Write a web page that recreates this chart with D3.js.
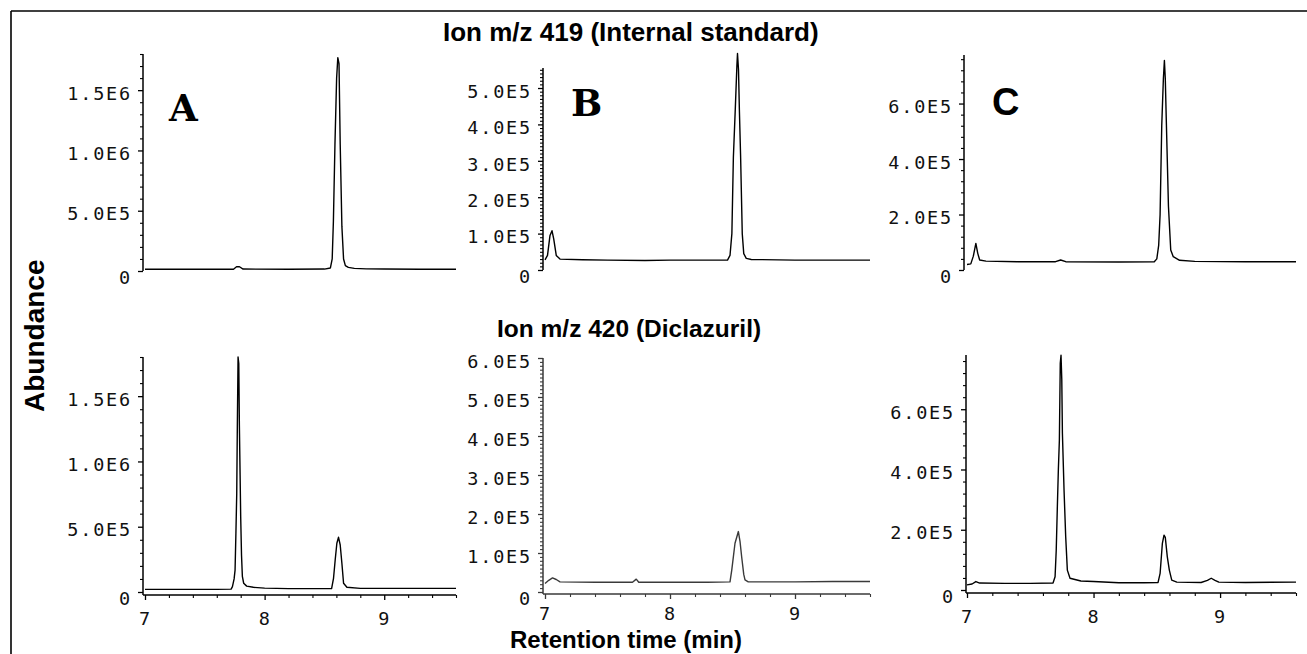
<!DOCTYPE html>
<html><head><meta charset="utf-8">
<script src="https://cdn.jsdelivr.net/npm/d3@7"></script>
<style>
html,body{margin:0;padding:0;background:#fff;}
svg{display:block;background:#fff;}
</style></head><body>
<svg id="chart" width="1307" height="654"></svg>
<script>
// ---------- data (retention time in min, abundance) ----------
const timeTicks = ["7", "8", "9"];
const ion419Title = "Ion m/z 419 (Internal standard)";
const ion420Title = "Ion m/z 420 (Diclazuril)";
const sampleLetters = ["A", "B", "C"];

const traceA419 = [[7.0,1.5e4],[7.3,1.4e4],[7.6,1.5e4],[7.74,1.5e4],[7.765,3.5e4],[7.79,3.5e4],[7.82,1.6e4],[8.2,1.5e4],[8.5,1.6e4],[8.55,2.5e4],[8.565,1.0e5],[8.575,4.1e5],[8.588,1.05e6],[8.602,1.6e6],[8.612,1.77e6],[8.622,1.72e6],[8.632,1.05e6],[8.646,3.7e5],[8.66,1.0e5],[8.675,4.5e4],[8.7,3.0e4],[8.75,2.2e4],[8.85,1.8e4],[9.0,1.6e4],[9.3,1.5e4],[9.6,1.5e4]];
const traceB419 = [[7.0,2.8e4],[7.02,4.0e4],[7.04,9.5e4],[7.056,1.08e5],[7.07,8.5e4],[7.09,4.0e4],[7.12,3.0e4],[7.3,2.8e4],[7.5,2.7e4],[7.8,2.6e4],[8.0,2.7e4],[8.3,2.7e4],[8.46,2.7e4],[8.48,4.0e4],[8.495,1.0e5],[8.507,3.1e5],[8.522,4.4e5],[8.535,5.6e5],[8.54,5.95e5],[8.548,5.5e5],[8.555,4.4e5],[8.565,3.1e5],[8.578,1.0e5],[8.59,4.5e4],[8.61,3.2e4],[8.65,2.9e4],[9.0,2.7e4],[9.3,2.7e4],[9.6,2.7e4]];
const traceC419 = [[7.0,2.0e4],[7.03,2.2e4],[7.05,5.0e4],[7.07,9.6e4],[7.085,6.0e4],[7.1,3.6e4],[7.15,3.2e4],[7.4,3.0e4],[7.7,3.0e4],[7.74,3.6e4],[7.78,3.0e4],[8.2,2.9e4],[8.48,3.0e4],[8.5,4.0e4],[8.515,9.0e4],[8.526,2.0e5],[8.539,5.2e5],[8.552,6.9e5],[8.56,7.55e5],[8.567,6.9e5],[8.575,5.4e5],[8.592,2.3e5],[8.61,7.2e4],[8.63,4.8e4],[8.68,3.5e4],[8.8,3.1e4],[9.2,3.0e4],[9.6,3.0e4]];
const traceA420 = [[7.0,2.0e4],[7.3,2.0e4],[7.6,2.0e4],[7.72,2.2e4],[7.731,4.1e4],[7.745,1.0e5],[7.753,1.68e5],[7.76,4.5e5],[7.767,7.56e5],[7.772,1.28e6],[7.778,1.8e6],[7.784,1.75e6],[7.789,1.28e6],[7.795,9.0e5],[7.8,5.77e5],[7.807,2.8e5],[7.814,1.2e5],[7.825,6.7e4],[7.85,4.5e4],[7.906,3.6e4],[8.0,3.0e4],[8.2,2.6e4],[8.4,2.6e4],[8.56,2.6e4],[8.576,1.05e5],[8.59,2.45e5],[8.604,3.73e5],[8.618,4.19e5],[8.632,3.6e5],[8.646,2.2e5],[8.66,6.7e4],[8.688,3.6e4],[8.8,2.8e4],[9.0,2.8e4],[9.3,2.8e4],[9.6,2.8e4]];
const traceB420 = [[7.0,2.2e4],[7.03,3.0e4],[7.06,3.6e4],[7.09,3.2e4],[7.12,2.6e4],[7.4,2.5e4],[7.7,2.5e4],[7.73,3.3e4],[7.75,2.5e4],[8.0,2.5e4],[8.3,2.5e4],[8.48,2.6e4],[8.494,5.6e4],[8.52,1.25e5],[8.547,1.55e5],[8.56,1.3e5],[8.573,9.1e4],[8.59,4.5e4],[8.6,3.1e4],[8.626,2.6e4],[9.0,2.6e4],[9.3,2.7e4],[9.6,2.7e4]];
const traceC420 = [[7.0,1.7e4],[7.04,2.0e4],[7.07,2.8e4],[7.1,2.3e4],[7.3,2.2e4],[7.5,2.2e4],[7.68,2.3e4],[7.696,4.4e4],[7.705,1.3e5],[7.714,2.76e5],[7.722,4.0e5],[7.73,4.97e5],[7.737,7.52e5],[7.743,7.79e5],[7.749,7.0e5],[7.754,5.2e5],[7.767,3.3e5],[7.78,1.77e5],[7.793,6.6e4],[7.814,3.9e4],[7.9,3.0e4],[8.0,2.8e4],[8.2,2.4e4],[8.4,2.4e4],[8.51,2.5e4],[8.526,5.5e4],[8.544,1.55e5],[8.557,1.82e5],[8.567,1.75e5],[8.583,1.1e5],[8.599,6.6e4],[8.618,3.3e4],[8.658,2.6e4],[8.85,2.5e4],[8.9,3.2e4],[8.93,3.9e4],[8.96,3.2e4],[8.99,2.6e4],[9.2,2.5e4],[9.6,2.6e4]];

const ticksE6 = [0, 5e5, 1e6, 1.5e6];
const labelsE6 = ["0", "5.0E5", "1.0E6", "1.5E6"];
const ticksB419 = [0, 1e5, 2e5, 3e5, 4e5, 5e5];
const labelsB419 = ["0", "1.0E5", "2.0E5", "3.0E5", "4.0E5", "5.0E5"];
const ticksB420 = [0, 1e5, 2e5, 3e5, 4e5, 5e5, 6e5];
const labelsB420 = ["0", "1.0E5", "2.0E5", "3.0E5", "4.0E5", "5.0E5", "6.0E5"];
const ticksC = [0, 2e5, 4e5, 6e5];
const labelsC = ["0", "2.0E5", "4.0E5", "6.0E5"];

// ---------- layout ----------
const panels = [
  {data: traceA419, yMax: 1.8e6,  ticks: ticksE6,  labels: labelsE6,  minor: 1e5, x0: 145, x1: 456,  ax: 143, y0: 271, y1: 54,  xAxisY: null},
  {data: traceB419, yMax: 5.55e5, ticks: ticksB419, labels: labelsB419, minor: 1e4, x0: 545, x1: 870,  ax: 543, y0: 270, y1: 68,  xAxisY: null},
  {data: traceC419, yMax: 7.75e5, ticks: ticksC,   labels: labelsC,   minor: 4e4, x0: 967, x1: 1296, ax: 964, y0: 270, y1: 55,  xAxisY: null},
  {data: traceA420, yMax: 1.8e6,  ticks: ticksE6,  labels: labelsE6,  minor: 1e5, x0: 145, x1: 456,  ax: 143, y0: 592, y1: 357, xAxisY: 595, xPad: 12},
  {data: traceB420, yMax: 6.0e5,  ticks: ticksB420, labels: labelsB420, minor: 1e4, x0: 545, x1: 870,  ax: 543, y0: 592, y1: 358, xAxisY: 594, xPad: 8, color: "#3a3a3a"},
  {data: traceC420, yMax: 7.8e5,  ticks: ticksC,   labels: labelsC,   minor: 4e4, x0: 967, x1: 1296, ax: 966, y0: 590, y1: 355, xAxisY: 593, xPad: 12}
];

const svg = d3.select("#chart");
const monoFont = "'DejaVu Sans Mono', 'Liberation Mono', monospace";
const boldFont = "'Liberation Sans', Arial, Helvetica, sans-serif";

// frame
svg.append("line").attr("x1", 11).attr("x2", 1307).attr("y1", 11).attr("y2", 11).attr("stroke", "#000").attr("stroke-width", 1.6);
svg.append("line").attr("x1", 11).attr("x2", 11).attr("y1", 11).attr("y2", 654).attr("stroke", "#000").attr("stroke-width", 1.6);

function styleTickText(sel) {
  sel.selectAll("text")
    .attr("font-family", monoFont)
    .attr("font-size", 18.5)
    .attr("letter-spacing", "1.8px")
    .attr("fill", "#111");
}

panels.forEach(p => {
  const color = p.color || "#000";
  const x = d3.scaleLinear().domain([7, 9.6]).range([p.x0, p.x1]);
  const y = d3.scaleLinear().domain([0, p.yMax]).range([p.y0, p.y1]);
  const g = svg.append("g");

  // minor y ticks
  const minorVals = d3.range(p.minor, p.yMax + 1, p.minor).filter(v => !p.ticks.some(t => Math.abs(t - v) < p.minor / 2));
  const gMinor = g.append("g").attr("transform", `translate(${p.ax},0)`)
    .call(d3.axisLeft(y).tickValues(minorVals).tickSize(3).tickSizeOuter(0).tickFormat(""));
  gMinor.select(".domain").remove();
  gMinor.selectAll("line").attr("stroke", color).attr("stroke-width", 1.1);

  // major y ticks + labels
  const gMajor = g.append("g").attr("transform", `translate(${p.ax},0)`)
    .call(d3.axisLeft(y).tickValues(p.ticks).tickSize(5).tickSizeOuter(0).tickPadding(6)
      .tickFormat((d, i) => p.labels[i]));
  gMajor.select(".domain").remove();
  gMajor.selectAll("line").attr("stroke", color).attr("stroke-width", 1.3);
  styleTickText(gMajor);
  gMajor.selectAll("text").attr("dy", d => d === 0 ? "0.65em" : "0.5em");

  // y-axis line
  g.append("line").attr("x1", p.ax).attr("x2", p.ax)
    .attr("y1", p.xAxisY != null ? p.xAxisY : y(0)).attr("y2", p.y1)
    .attr("stroke", color).attr("stroke-width", 1.5);

  // x axis (bottom row only)
  if (p.xAxisY != null) {
    const gxMinor = g.append("g").attr("transform", `translate(0,${p.xAxisY})`)
      .call(d3.axisBottom(x).tickValues(d3.range(7.2, 9.61, 0.2).filter(v => Math.abs(v - Math.round(v)) > 0.05))
        .tickSize(3).tickSizeOuter(0).tickFormat(""));
    gxMinor.select(".domain").remove();
    gxMinor.selectAll("line").attr("stroke", color).attr("stroke-width", 1.1);
    const gx = g.append("g").attr("transform", `translate(0,${p.xAxisY})`)
      .call(d3.axisBottom(x).tickValues(timeTicks.map(Number)).tickSize(5).tickSizeOuter(0).tickPadding(p.xPad)
        .tickFormat((d, i) => timeTicks[i]));
    gx.select(".domain").remove();
    gx.selectAll("line").attr("stroke", color).attr("stroke-width", 1.3);
    styleTickText(gx);
    g.append("line").attr("x1", p.ax).attr("x2", p.x1)
      .attr("y1", p.xAxisY).attr("y2", p.xAxisY)
      .attr("stroke", color).attr("stroke-width", 1.5);
  }

  // trace
  g.append("path").datum(p.data)
    .attr("fill", "none").attr("stroke", color).attr("stroke-width", 1.4)
    .attr("stroke-linejoin", "round")
    .attr("d", d3.line().x(d => x(d[0])).y(d => y(d[1])));
});

// sample letters
svg.append("text").attr("x", 169).attr("y", 121).text(sampleLetters[0])
  .attr("font-family", "'DejaVu Serif', serif").attr("font-weight", "bold").attr("font-size", 37).attr("fill", "#000");
svg.append("text").attr("x", 571).attr("y", 116).text(sampleLetters[1])
  .attr("font-family", "'DejaVu Serif', serif").attr("font-weight", "bold").attr("font-size", 37).attr("fill", "#000");
svg.append("text").attr("x", 992).attr("y", 115).text(sampleLetters[2])
  .attr("font-family", boldFont).attr("font-weight", "bold").attr("font-size", 38).attr("fill", "#000");

// titles
svg.append("text").attr("x", 443).attr("y", 41).text(ion419Title)
  .attr("font-family", boldFont).attr("font-weight", "bold").attr("font-size", 26).attr("fill", "#000");
svg.append("text").attr("x", 497).attr("y", 337).text(ion420Title)
  .attr("font-family", boldFont).attr("font-weight", "bold").attr("font-size", 24.5).attr("fill", "#000");
svg.append("text").attr("x", 510).attr("y", 648).text("Retention time (min)")
  .attr("font-family", boldFont).attr("font-weight", "bold").attr("font-size", 24).attr("fill", "#000");
svg.append("text").attr("transform", "translate(44,412) rotate(-90)").text("Abundance")
  .attr("font-family", boldFont).attr("font-weight", "bold").attr("font-size", 28).attr("fill", "#000");
</script>
</body></html>
